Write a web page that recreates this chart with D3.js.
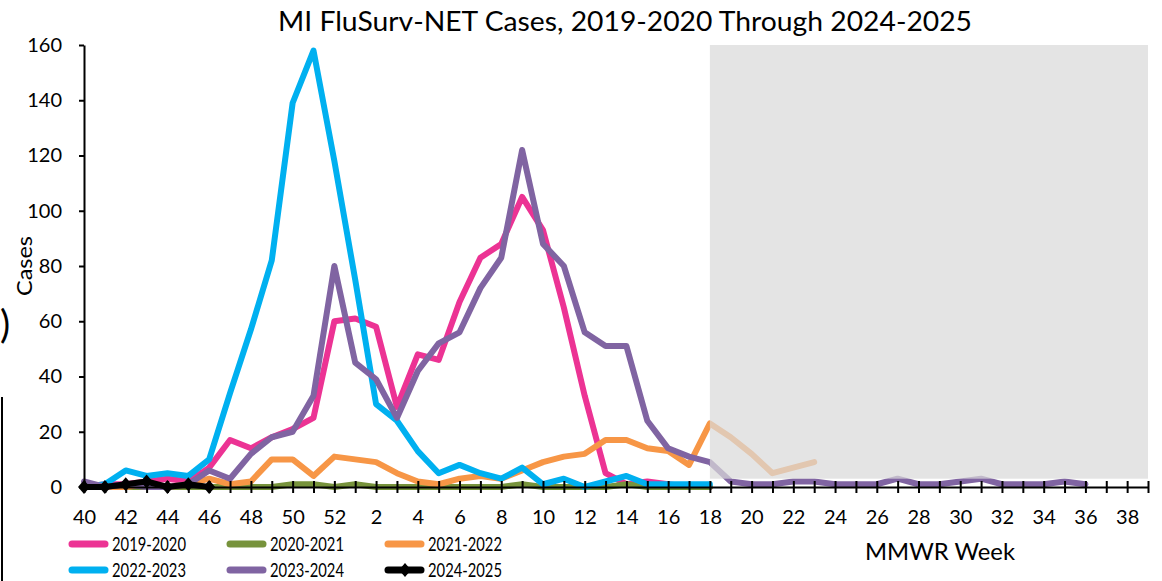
<!DOCTYPE html>
<html>
<head>
<meta charset="utf-8">
<script src="https://cdn.jsdelivr.net/npm/d3@7"></script>
<style>
  body { margin: 0; background: #fff; }
  text { font-family: Lato, "Open Sans", sans-serif; fill: #000; }
</style>
</head>
<body>
<div id="chart"></div>
<script>
// MMWR weeks, season runs week 40 -> week 39
const weeks = [40, 41, 42, 43, 44, 45, 46, 47, 48, 49, 50, 51, 52,
  1, 2, 3, 4, 5, 6, 7, 8, 9, 10, 11, 12, 13, 14, 15, 16, 17, 18, 19, 20,
  21, 22, 23, 24, 25, 26, 27, 28, 29, 30, 31, 32, 33, 34, 35, 36, 37, 38, 39];
const tickWeeks = [40, 42, 44, 46, 48, 50, 52, 2, 4, 6, 8, 10, 12, 14, 16, 18,
  20, 22, 24, 26, 28, 30, 32, 34, 36, 38];
const yTicks = [0, 20, 40, 60, 80, 100, 120, 140, 160];

// cases per week, starting at week 40
const cases2019 = [0, 1, 1, 2, 3, 2, 7, 17, 14, 18, 21, 25, 60,
  61, 58, 29, 48, 46, 67, 83, 88, 105, 93, 65, 33, 5, 1, 2, 1, 0, 0];
const cases2020 = [0, 0, 0, 0, 0, 0, 0, 0, 0, 0, 1, 1, 0,
  1, 0, 0, 0, 0, 0, 0, 0, 1, 0, 0, 0, 0, 1, 0, 0, 0, 0];
const cases2021 = [0, 0, 0, 1, 0, 1, 3, 1, 2, 10, 10, 4, 11,
  10, 9, 5, 2, 1, 3, 4, 3, 6, 9, 11, 12, 17, 17, 14, 13, 8, 23, 18, 12, 5, 7, 9];
const cases2022 = [0, 1, 6, 4, 5, 4, 10, 34, 57, 82, 139, 158, 118,
  75, 30, 24, 13, 5, 8, 5, 3, 7, 1, 3, 0, 2, 4, 1, 1, 1, 1];
const cases2023 = [2, 0, 1, 0, 0, 1, 6, 3, 12, 18, 20, 33, 80,
  45, 39, 25, 42, 52, 56, 72, 83, 122, 88, 80, 56, 51, 51, 24, 14, 11, 9,
  2, 1, 1, 2, 2, 1, 1, 1, 3, 1, 1, 2, 3, 1, 1, 1, 2, 1];
const cases2024 = [0, 0, 1, 2, 0, 1, 0];

const seasons = [
  { name: "2019-2020", values: cases2019, color: "#ec3394" },
  { name: "2020-2021", values: cases2020, color: "#77933c" },
  { name: "2021-2022", values: cases2021, color: "#f79646" },
  { name: "2022-2023", values: cases2022, color: "#00b0f0" },
  { name: "2023-2024", values: cases2023, color: "#8064a2" },
  { name: "2024-2025", values: cases2024, color: "#000000", marker: true }
];

const width = 1162, height = 581;

const svg = d3.select("#chart").append("svg")
  .attr("width", width)
  .attr("height", height);

const x = d3.scalePoint().domain(weeks).range([84, 1148]);
const y = d3.scaleLinear().domain([0, 160]).range([487, 45]);

// stray bits of the slide the chart was cropped from
svg.append("text").attr("x", 0).attr("y", 338)
  .style("font-size", "38px").text(")");
svg.append("line").attr("x1", 2).attr("x2", 2).attr("y1", 397).attr("y2", height)
  .attr("stroke", "#000").attr("stroke-width", 2);

// title
svg.append("text")
  .attr("x", 625).attr("y", 31)
  .attr("text-anchor", "middle")
  .attr("textLength", 694)
  .attr("lengthAdjust", "spacingAndGlyphs")
  .style("font-size", "27px")
  .text("MI FluSurv-NET Cases, 2019-2020 Through 2024-2025");

// lines
const line = d3.line()
  .x((d, i) => x(weeks[i]))
  .y(d => y(d));

seasons.forEach(s => {
  svg.append("path")
    .datum(s.values)
    .attr("fill", "none")
    .attr("stroke", s.color)
    .attr("stroke-width", 6)
    .attr("stroke-linejoin", "round")
    .attr("stroke-linecap", "round")
    .attr("d", line);
});

const diamond = "M0,-7L6,0L0,7L-6,0Z";
svg.selectAll(".marker")
  .data(cases2024)
  .enter()
  .append("path")
  .attr("class", "marker")
  .attr("d", diamond)
  .attr("fill", "#000")
  .attr("transform", (d, i) => `translate(${x(weeks[i])},${y(d)})`);

// shaded "not yet" region laid over the lines
svg.append("rect")
  .attr("x", x(18))
  .attr("y", y(160))
  .attr("width", x(39) - x(18))
  .attr("height", y(3) - y(160))
  .attr("fill", "#d9d9d9")
  .attr("fill-opacity", 0.72);

// y axis
const yAxis = svg.append("g")
  .attr("transform", `translate(${x(40)},0)`)
  .call(d3.axisLeft(y).tickValues(yTicks).tickSize(5).tickSizeOuter(0).tickPadding(17));
yAxis.select(".domain").attr("stroke-width", 2);
yAxis.selectAll(".tick line").attr("stroke-width", 2);
yAxis.selectAll("text").style("font-size", "20px").style("font-family", "Lato, sans-serif");

// x axis, ticks cross the line
const xAxis = svg.append("g")
  .attr("transform", `translate(0,${y(0)})`)
  .call(d3.axisBottom(x).tickSize(6).tickSizeOuter(0).tickPadding(17)
    .tickFormat(d => tickWeeks.includes(d) ? d : ""));
xAxis.select(".domain").attr("stroke-width", 2);
xAxis.selectAll(".tick line").attr("y1", -6).attr("y2", 6).attr("stroke-width", 2);
xAxis.selectAll("text").style("font-size", "20px").style("font-family", "Lato, sans-serif");

// axis titles
svg.append("text")
  .attr("transform", "translate(32,266) rotate(-90)")
  .attr("text-anchor", "middle")
  .attr("textLength", 60)
  .attr("lengthAdjust", "spacingAndGlyphs")
  .style("font-size", "21px")
  .text("Cases");

svg.append("text")
  .attr("x", 940).attr("y", 560)
  .attr("text-anchor", "middle")
  .attr("textLength", 150)
  .attr("lengthAdjust", "spacingAndGlyphs")
  .style("font-size", "23px")
  .text("MMWR Week");

// legend, three columns by two rows
const legendCols = [72, 230, 388];
const legendRows = [544, 570];
const legend = svg.selectAll(".legend")
  .data(seasons)
  .enter()
  .append("g")
  .attr("class", "legend")
  .attr("transform", (d, i) => `translate(${legendCols[i % 3]},${legendRows[Math.floor(i / 3)]})`);

legend.append("line")
  .attr("x1", 0).attr("x2", 33)
  .attr("stroke", d => d.color)
  .attr("stroke-width", 7)
  .attr("stroke-linecap", "round");

legend.filter(d => d.marker)
  .append("path")
  .attr("d", diamond)
  .attr("transform", "translate(17,0)")
  .attr("fill", "#000");

legend.append("text")
  .attr("x", 40)
  .attr("dy", "0.36em")
  .attr("textLength", 74)
  .attr("lengthAdjust", "spacingAndGlyphs")
  .style("font-size", "19px")
  .text(d => d.name);
</script>
</body>
</html>
